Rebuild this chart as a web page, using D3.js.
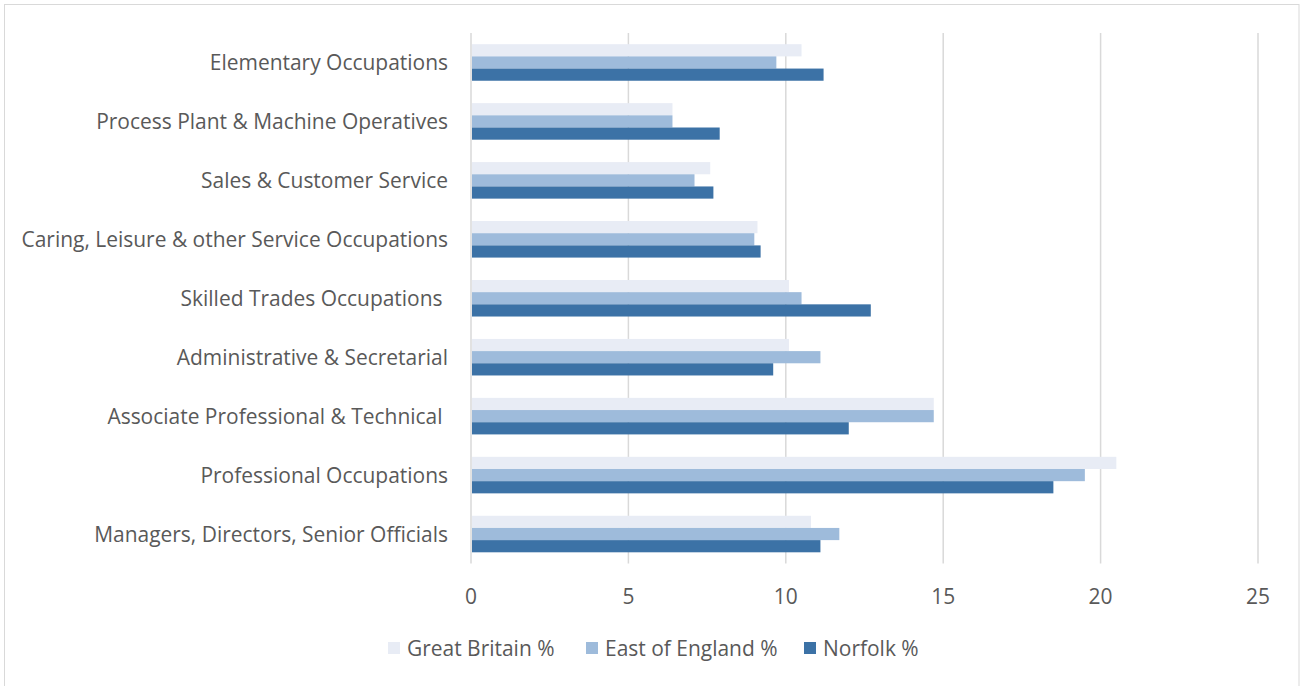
<!DOCTYPE html>
<html>
<head>
<meta charset="utf-8">
<script src="https://cdn.jsdelivr.net/npm/d3@7"></script>
<style>
  html, body { margin: 0; padding: 0; background: #fff; }
  svg { display: block; }
  text { font-family: "Open Sans", "Lato", sans-serif; fill: #595959; white-space: pre; }
</style>
</head>
<body>
<svg id="chart" width="1304" height="686"></svg>
<script>
const categories = [
  "Elementary Occupations",
  "Process Plant & Machine Operatives",
  "Sales & Customer Service",
  "Caring, Leisure & other Service Occupations",
  "Skilled Trades Occupations ",
  "Administrative & Secretarial",
  "Associate Professional & Technical ",
  "Professional Occupations",
  "Managers, Directors, Senior Officials"
];
const seriesNames = ["Great Britain %", "East of England %", "Norfolk %"];
const greatBritain = [10.5, 6.4, 7.6, 9.1, 10.1, 10.1, 14.7, 20.5, 10.8];
const eastOfEngland = [9.7, 6.4, 7.1, 9.0, 10.5, 11.1, 14.7, 19.5, 11.7];
const norfolk = [11.2, 7.9, 7.7, 9.2, 12.7, 9.6, 12.0, 18.5, 11.1];
const xTicks = [0, 5, 10, 15, 20, 25];
const colors = ["#e8ecf5", "#9ebbdb", "#3c72a6"];

(function () {
const seriesValues = [greatBritain, eastOfEngland, norfolk];
const svg = d3.select("#chart");

// outer border
svg.append("rect").attr("x", 4.5).attr("y", 4.5).attr("width", 1294.5).attr("height", 690)
  .attr("fill", "#fff").attr("stroke", "#d9d9d9").attr("stroke-width", 1);

const pLeft = 471, pRight = 1258, pTop = 33, pBottom = 563.5;
const x = d3.scaleLinear().domain([0, 25]).range([pLeft, pRight]);
const y = d3.scaleBand().domain(categories).range([pTop, pBottom]).paddingInner(0.38).paddingOuter(0.19);
const ySub = d3.scaleBand().domain(d3.range(3)).range([0, y.bandwidth()]);

// gridlines
svg.append("g").selectAll("line").data(xTicks).join("line")
  .attr("x1", d => x(d)).attr("x2", d => x(d))
  .attr("y1", pTop).attr("y2", pBottom)
  .attr("stroke", "#d9d9d9").attr("stroke-width", 1.5);

// bars
categories.forEach((c, i) => {
  seriesValues.forEach((vals, s) => {
    svg.append("rect")
      .attr("x", x(0) + 1)
      .attr("y", y(c) + ySub(s))
      .attr("width", x(vals[i]) - x(0) - 1)
      .attr("height", ySub.bandwidth())
      .attr("fill", colors[s]);
  });
});

// category labels
const labels = svg.append("g").selectAll("text").data(categories).join("text")
  .attr("x", 448).attr("y", d => y(d) + y.bandwidth() / 2)
  .attr("text-anchor", "end").attr("dominant-baseline", "central")
  .attr("font-size", 18)
  .text(d => d);

// fit font size to reference label width
const refNode = labels.filter((d, i) => i === 8).node();
const w = refNode.getComputedTextLength();
const fs = 18 * 354 / w;
labels.attr("font-size", fs);

// x tick labels
svg.append("g").selectAll("text").data(xTicks).join("text")
  .attr("x", d => x(d)).attr("y", 596)
  .attr("text-anchor", "middle").attr("dominant-baseline", "central")
  .attr("font-size", fs)
  .text(d => d);

// legend
const legendX = [388, 586, 804];
const lg = svg.append("g");
seriesNames.forEach((n, s) => {
  lg.append("rect").attr("x", legendX[s]).attr("y", 642).attr("width", 12).attr("height", 12).attr("fill", colors[s]);
  lg.append("text").attr("x", legendX[s] + 19).attr("y", 648)
    .attr("dominant-baseline", "central").attr("font-size", fs).text(n);
});
})();
</script>
</body>
</html>
